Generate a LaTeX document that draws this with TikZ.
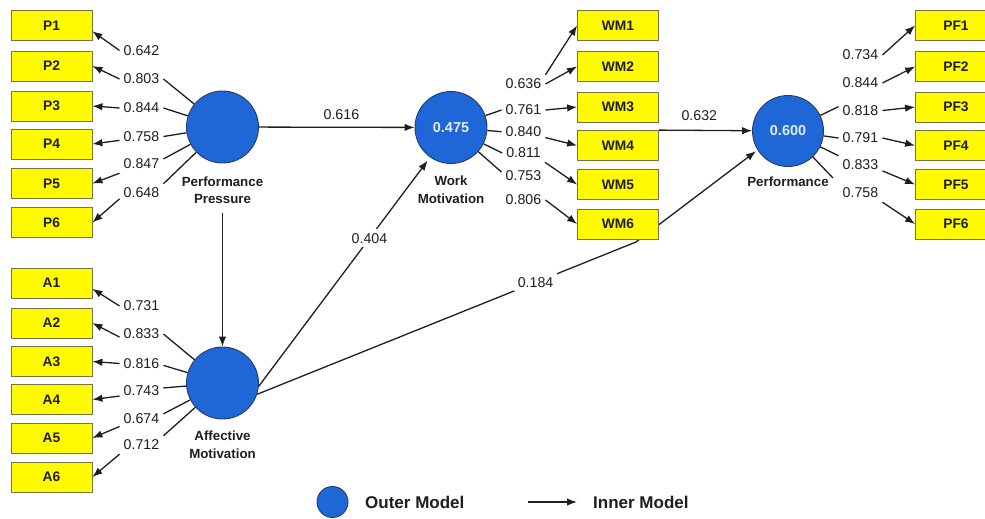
\documentclass[tikz,border=0pt]{standalone}
\usepackage{fontspec}
\setmainfont{Liberation Sans}
\usetikzlibrary{arrows.meta,backgrounds}
\definecolor{boxyellow}{RGB}{255,250,0}
\definecolor{boxedge}{RGB}{120,115,70}
\definecolor{cblue}{RGB}{31,102,214}
\definecolor{cedge}{RGB}{35,60,110}
\definecolor{ink}{RGB}{30,30,30}
\definecolor{valtxt}{RGB}{225,236,255}
\begin{document}
\begin{tikzpicture}[x=1pt,y=-1pt,
  >={Latex[length=10pt,width=7.5pt]},
  indbox/.style={draw=boxedge, line width=0.8pt, fill=boxyellow, minimum width=81pt, minimum height=30pt, inner sep=0pt, font=\fontsize{13.8}{15}\selectfont\bfseries, text=ink},
  latent/.style={circle, draw=cedge, line width=0.9pt, fill=cblue, minimum size=72pt, inner sep=0pt, font=\fontsize{14.4}{16}\selectfont\bfseries, text=valtxt},
  ltname/.style={align=center, font=\fontsize{13.3}{17.8}\selectfont\bfseries, text=ink, inner sep=3pt},
  load/.style={font=\fontsize{14.2}{16}\selectfont, text=ink, inner sep=4pt},
  wload/.style={load, fill=white},
  ldline/.style={draw=ink, line width=1.3pt},
  ldarrow/.style={->, draw=ink, line width=1.3pt},
  legtext/.style={font=\fontsize{17}{19}\selectfont\bfseries, text=ink, inner sep=0pt, anchor=west}
]
\useasboundingbox (0,0) rectangle (985,519);
\clip (0,0) rectangle (985,519);

% latent variables
\node[latent] (PP) at (222.5,127) {};
\node[latent] (AM) at (222.5,383) {};
\node[latent] (WM) at (451,127.5) {0.475};
\node[latent, minimum size=71pt] (PF) at (788,131) {0.600};
\node[ltname] (PPl) at (222.5,190.3) {Performance\\Pressure};
\node[ltname] (AMl) at (222.5,445) {Affective\\Motivation};
\node[ltname] (WMl) at (451,189.4) {Work\\Motivation};
\node[ltname] (PFl) at (788,181.7) {Performance};

% indicator boxes
\foreach \i/\y in {1/25.5,2/66,3/106,4/144,5/183.5,6/222.5}
  \node[indbox] (P\i) at (51.5,\y) {P\i};
\foreach \i/\y in {1/283,2/323,3/361.5,4/399.5,5/438,6/477}
  \node[indbox] (A\i) at (51.5,\y) {A\i};
\foreach \i/\y in {1/25.5,2/66.5,3/107,4/145.5,5/184.5,6/224}
  \node[indbox] (WM\i) at (618,\y) {WM\i};
\foreach \i/\y in {1/25.5,2/66.5,3/107,4/145.5,5/184.5,6/224}
  \node[indbox] (PF\i) at (956,\y) {PF\i};

% loading labels
\foreach \i/\y/\v in {1/50.5/0.642,2/79/0.803,3/108/0.844,4/136.5/0.758,5/164/0.847,6/193/0.648}
  \node[load] (p\i) at (141.5,\y) {\v};
\foreach \i/\y/\v in {1/306/0.731,2/334/0.833,3/363.5/0.816,4/391/0.743,5/418.5/0.674,6/445/0.712}
  \node[load] (a\i) at (141.5,\y) {\v};
\foreach \i/\y/\v in {1/84/0.636,2/110/0.761,3/131.7/0.840,4/153/0.811,5/176/0.753,6/200/0.806}
  \node[load] (w\i) at (523.5,\y) {\v};
\foreach \i/\y/\v in {1/55/0.734,2/83/0.844,3/110.5/0.818,4/138/0.791,5/165/0.833,6/193/0.758}
  \node[load] (f\i) at (860.5,\y) {\v};

% Performance Pressure outer lines
\draw[ldline] (PP) -- (p2.east);
\draw[ldline] (PP) -- (p3.east);
\draw[ldline] (PP) -- (p4.east);
\draw[ldline] (PP) -- (p5.13);
\draw[ldline] (PP) -- (p6.north east);
\draw[ldarrow] (p1.west) -- (P1.-8);
\draw[ldarrow] (p2.west) -- (P2.east);
\draw[ldarrow] (p3.west) -- (P3.east);
\draw[ldarrow] (p4.190) -- (P4.east);
\draw[ldarrow] (p5.south west) -- (P5.east);
\draw[ldarrow] (p6.195) -- (P6.east);

% Affective Motivation outer lines
\draw[ldline] (AM) -- (a2.east);
\draw[ldline] (AM) -- (a3.-5);
\draw[ldline] (AM) -- (a4.8);
\draw[ldline] (AM) -- (a5.12);
\draw[ldline] (AM) -- (a6.north east);
\draw[ldarrow] (a1.west) -- (A1.-8);
\draw[ldarrow] (a2.188) -- (A2.east);
\draw[ldarrow] (a3.west) -- (A3.east);
\draw[ldarrow] (a4.193) -- (A4.east);
\draw[ldarrow] (a5.200) -- (A5.east);
\draw[ldarrow] (a6.south west) -- (A6.east);

% Work Motivation outer lines
\draw[ldline] (WM) -- (w2.west);
\draw[ldline] (WM) -- (w3.west);
\draw[ldline] (WM) -- (w4.west);
\draw[ldline] (WM) -- (w5.170);
\draw[ldarrow] (w1.north east) -- (WM1.west);
\draw[ldarrow] (w1.east) -- (WM2.west);
\draw[ldarrow] (w2.east) -- (WM3.west);
\draw[ldarrow] (w3.-15) -- (WM4.west);
\draw[ldarrow] (w4.south east) -- (WM5.west);
\draw[ldarrow] (w6.east) -- (WM6.west);

% Performance outer lines
\draw[ldline] (PF) -- (f3.170);
\draw[ldline] (PF) -- (f4.west);
\draw[ldline] (PF) -- (f5.north west);
\draw[ldline, shorten >=8pt] (PF) -- (f6.north west);
\draw[ldarrow] (f1.east) -- (PF1.west);
\draw[ldarrow] (f2.east) -- (PF2.west);
\draw[ldarrow] (f3.east) -- (PF3.west);
\draw[ldarrow] (f4.east) -- (PF4.west);
\draw[ldarrow] (f5.-15) -- (PF5.west);
\draw[ldarrow] (f6.south east) -- (PF6.west);

% inner model
\draw[ldarrow] (PP) -- node[load, above=3pt, pos=0.53] {0.616} (WM);
\draw[ldarrow, shorten <=6pt] (PPl) -- (AM);
\draw[ldarrow, shorten >=4pt] (AM.-5) -- node[wload, pos=0.646] {0.404} (WM.235);
\draw[ldarrow] (WM4.north east) -- node[load, above=5pt, pos=0.434] {0.632} (PF);
\coordinate (bend) at (636,242);
\begin{pgfonlayer}{background}
  \draw[ldline] (AM.-18) -- node[wload, pos=0.735] {0.184} (bend);
  \draw[ldarrow, shorten >=2pt] (bend) -- (PF.212);
\end{pgfonlayer}

% legend
\node[latent, minimum size=31pt] (legc) at (332.5,502) {};
\node[legtext] (legouter) at (365,502.5) {Outer Model};
\coordinate (la) at (528,502);
\coordinate (lb) at (577,502);
\draw[ldarrow] (la) -- (lb);
\node[legtext] (leginner) at (593,502.5) {Inner Model};
\end{tikzpicture}
\end{document}
